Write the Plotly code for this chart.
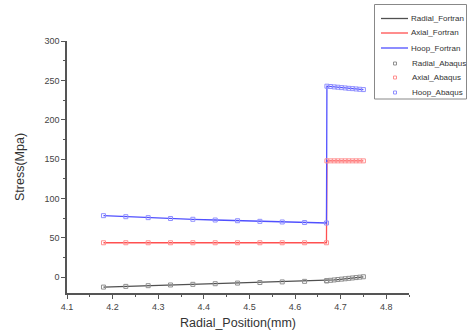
import plotly.graph_objects as go

# Radial positions (mm)
x_inner = [4.18, 4.229, 4.278, 4.327, 4.376, 4.425, 4.474, 4.523, 4.572, 4.621, 4.669]
x_outer = [4.670, 4.678, 4.686, 4.694, 4.702, 4.710, 4.718, 4.726, 4.734, 4.742, 4.750]

radial_inner = [-12.5, -11.6, -10.7, -9.8, -9.0, -8.2, -7.4, -6.7, -5.9, -5.2, -4.5]
radial_outer = [-4.5, -3.9, -3.4, -2.9, -2.4, -1.9, -1.4, -0.9, -0.4, 0.1, 0.6]
axial_inner = [43.8, 43.8, 43.8, 43.8, 43.8, 43.8, 43.8, 43.8, 43.8, 43.8, 43.8]
axial_outer = [147.8, 147.8, 147.8, 147.8, 147.8, 147.8, 147.8, 147.8, 147.8, 147.8, 147.8]
hoop_inner = [78.2, 76.9, 75.7, 74.6, 73.6, 72.7, 71.8, 71.0, 70.2, 69.5, 68.9]
hoop_outer = [242.6, 242.2, 241.7, 241.3, 240.8, 240.4, 239.9, 239.5, 239.1, 238.7, 238.3]

x_all = x_inner + x_outer
series = [
    ("Radial", radial_inner + radial_outer, "#505050", "#909090"),
    ("Axial", axial_inner + axial_outer, "#ff5050", "#ff9090"),
    ("Hoop", hoop_inner + hoop_outer, "#5050ff", "#9090ff"),
]

W, H = 468, 334
ML, MR, MT, MB = 67, 59, 41, 41
PW, PH = W - ML - MR, H - MT - MB


def px(xp):
    return (xp - ML) / PW


def py(yp):
    return (H - MB - yp) / PH


fig = go.Figure()
for name, ys, lc, mc in series:
    fig.add_trace(go.Scatter(x=x_all, y=ys, mode="lines", name=name + "_Fortran",
                             line=dict(color=lc, width=1.3), showlegend=False))
for name, ys, lc, mc in series:
    fig.add_trace(go.Scatter(x=x_all, y=ys, mode="markers", name=name + "_Abaqus",
                             marker=dict(symbol="square-open", size=4, color=mc,
                                         line=dict(width=1, color=mc)), showlegend=False))

# Legend drawn as a box with samples (compact, like the original)
shapes = [dict(type="rect", xref="paper", yref="paper", x0=px(374.5), x1=px(466.5),
               y0=py(99), y1=py(4.5), line=dict(color="#888", width=1), fillcolor="white",
               layer="above")]
annotations = []
row_y = [18.5, 33, 48, 63.5, 77.5, 92.5]
entries = [(n + "_Fortran", lc, "line") for n, _, lc, _ in series] + \
          [(n + "_Abaqus", mc, "marker") for n, _, _, mc in series]
for (label, col, kind), ry in zip(entries, row_y):
    if kind == "line":
        shapes.append(dict(type="line", xref="paper", yref="paper", x0=px(381), x1=px(408),
                           y0=py(ry), y1=py(ry), line=dict(color=col, width=1.3), layer="above"))
        tx = 409
    else:
        shapes.append(dict(type="rect", xref="paper", yref="paper", x0=px(393.5), x1=px(396.5),
                           y0=py(ry + 1.5), y1=py(ry - 1.5), line=dict(color=col, width=1),
                           layer="above"))
        tx = 410.5
    annotations.append(dict(text=label, xref="paper", yref="paper", x=px(tx), y=py(ry),
                            xanchor="left", yanchor="middle", showarrow=False,
                            font=dict(size=8, color="#333")))

axis_font = dict(family="Liberation Sans, Arial, sans-serif", size=9, color="#444")
fig.update_layout(
    width=W, height=H,
    margin=dict(l=ML, r=MR, t=MT, b=MB, autoexpand=False),
    paper_bgcolor="white", plot_bgcolor="white",
    font=dict(family="Liberation Sans, Arial, sans-serif", color="#333"),
    showlegend=False,
    shapes=shapes, annotations=annotations,
    xaxis=dict(range=[4.1, 4.85], dtick=0.1, tick0=4.1, showline=True, linecolor="#555",
               linewidth=1.5, ticks="outside", ticklen=4, tickcolor="#555", showgrid=False,
               zeroline=False, tickfont=axis_font,
               minor=dict(dtick=0.05, ticks="outside", ticklen=2, tickcolor="#555", showgrid=False),
               title=dict(text="Radial_Position(mm)", font=dict(size=12.5, color="#333"), standoff=8)),
    yaxis=dict(range=[-20, 300], dtick=50, tick0=0, showline=True, linecolor="#555",
               linewidth=1.5, ticks="outside", ticklen=4, tickcolor="#555", showgrid=False,
               zeroline=False, tickfont=axis_font,
               minor=dict(dtick=25, ticks="outside", ticklen=2, tickcolor="#555", showgrid=False),
               title=dict(text="Stress(Mpa)", font=dict(size=12.5, color="#333"), standoff=17)),
)
fig.write_html("out.html", config={"displayModeBar": False},
               post_script="document.body.style.margin='0';")
